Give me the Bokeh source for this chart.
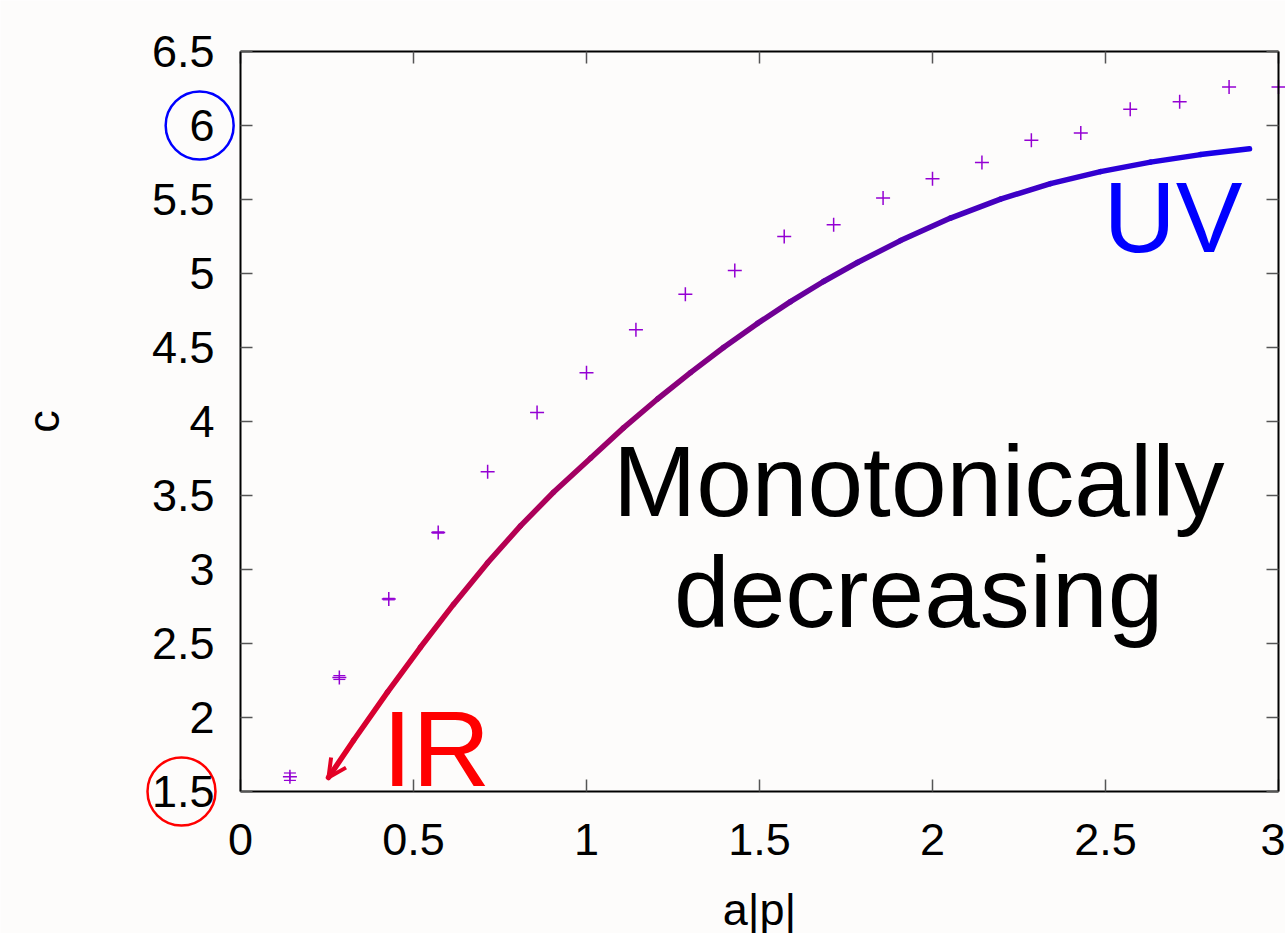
from bokeh.plotting import figure
from bokeh.models import (Range1d, LinearAxis, FixedTicker, NumeralTickFormatter, CustomJSTickFormatter,
                          ColumnDataSource, Arrow, OpenHead, Whisker, TeeHead)
from bokeh.core.properties import value
from bokeh.embed import file_html
from bokeh.resources import INLINE

# ---- data ----
x_ticks = [0, 0.5, 1, 1.5, 2, 2.5, 3]
y_ticks = [1.5, 2, 2.5, 3, 3.5, 4, 4.5, 5, 5.5, 6, 6.5]
x_bounds = (0, 3)
y_bounds = (1.5, 6.5)

ap = [1/7, 2/7, 3/7, 4/7, 5/7, 6/7, 7/7, 8/7, 9/7, 10/7, 11/7, 12/7, 13/7, 14/7,
      15/7, 16/7, 17/7, 18/7, 19/7, 20/7, 21/7]
c_vals = [1.60, 2.27, 2.80, 3.25, 3.66, 4.06, 4.33, 4.62, 4.86, 5.02, 5.25, 5.33,
          5.51, 5.64, 5.75, 5.90, 5.95, 6.11, 6.16, 6.26, 6.26]
c_err = [0.025, 0.013, 0.005, 0.004, 0, 0, 0, 0, 0, 0, 0, 0, 0, 0, 0, 0, 0, 0, 0, 0, 0]

# hand-drawn flow arrow (IR end first)
flow_x = [0.2543, 0.3266, 0.4249, 0.5202, 0.6156, 0.7139, 0.8092, 0.9046, 1.0116, 1.1069,
          1.2052, 1.3006, 1.3960, 1.4942, 1.5896, 1.6850, 1.7832, 1.9075, 2.0520, 2.1965,
          2.3410, 2.4855, 2.6301, 2.7746, 2.9162]
flow_y = [1.5946, 1.8446, 2.1709, 2.4743, 2.7642, 3.0446, 3.2946, 3.5216, 3.7514, 3.9568,
          4.1520, 4.3304, 4.5000, 4.6628, 4.8101, 4.9459, 5.0743, 5.2223, 5.3743, 5.5027,
          5.6074, 5.6885, 5.7527, 5.8034, 5.8432]

# circled tick values (on the y axis)
circled_ticks = [6, 1.5]
circ_x = [-0.118, -0.1705]
circ_col = ["#0000ff", "#ff0000"]

# annotation texts
note_text = ["UV", "IR", "Monotonically", "decreasing"]
note_x = [2.896, 0.410, 1.96, 1.96]
note_y = [5.385, 1.79, 3.595, 2.85]
note_size = ["100px", "108px", "100px", "100px"]
note_colors = ["#0000ff", "#ff0000", "black", "black"]
note_align = ["right", "left", "center", "center"]

BG = "#fdfcfb"
PURPLE = "#9400d3"

# the frame spans the whole canvas; axes are pinned at the data box edges
p = figure(frame_width=1285, frame_height=933, output_backend="svg", toolbar_location=None,
           x_range=Range1d(-0.6936, 3.0202), y_range=Range1d(0.5405, 6.8446),
           x_axis_location=None, y_axis_location=None,
           min_border=0, background_fill_color=BG, border_fill_color=BG)
p.title.visible = False
p.grid.visible = False
p.outline_line_color = None

def make_axis(ticks, bounds, loc, show_labels):
    ax = LinearAxis(fixed_location=loc, bounds=bounds)
    ax.ticker = FixedTicker(ticks=ticks)
    ax.axis_line_color = "black"
    ax.axis_line_width = 2
    ax.major_tick_in = 12
    ax.major_tick_out = 0
    ax.major_tick_line_color = "#555555"
    ax.major_tick_line_width = 1.5
    ax.minor_tick_line_color = None
    ax.major_label_text_font = "Liberation Sans"
    ax.major_label_text_color = "black"
    ax.axis_label_text_font = "Liberation Sans"
    ax.axis_label_text_font_size = "45px"
    ax.axis_label_text_font_style = "normal"
    ax.axis_label_text_color = "black"
    if show_labels:
        ax.formatter = NumeralTickFormatter(format="0.[0]")
        ax.major_label_text_font_size = "45px"
    else:
        ax.formatter = CustomJSTickFormatter(code="return ''")
        ax.major_label_standoff = 0
    return ax

xa = make_axis(x_ticks, x_bounds, y_bounds[0], True)
xa.major_label_standoff = 33
xa.axis_label = "a|p|"
xa.axis_label_standoff = 25
ya = make_axis(y_ticks, y_bounds, x_bounds[0], True)
ya.major_label_standoff = 26
ya.axis_label = "c"
ya.axis_label_standoff = 80
top = make_axis(x_ticks, x_bounds, y_bounds[1], False)
right = make_axis(y_ticks, y_bounds, x_bounds[1], False)
p.add_layout(xa, "below")
p.add_layout(ya, "left")
p.add_layout(top, "above")
p.add_layout(right, "right")

# flow arrow with red->blue gradient
n = len(flow_x)
def mix(t):
    r = int(round(228 * (1 - t) + 22 * t))
    b = int(round(36 * (1 - t) + 236 * t))
    return "#%02x%02x%02x" % (r, 0, b)
seg = ColumnDataSource(dict(
    x0=flow_x[:-1], y0=flow_y[:-1], x1=flow_x[1:], y1=flow_y[1:],
    col=[mix((i + 0.5) / (n - 1)) for i in range(n - 1)]))
p.segment("x0", "y0", "x1", "y1", source=seg, line_color="col", line_width=5.5, line_cap="round")
p.add_layout(Arrow(end=OpenHead(size=18, line_color=mix(0), line_width=4),
                   x_start=flow_x[1], y_start=flow_y[1], x_end=flow_x[0], y_end=flow_y[0],
                   line_color=None))

# data points with small error bars
pts = ColumnDataSource(dict(x=ap, y=c_vals))
p.scatter("x", "y", source=pts, marker="cross", size=14, line_color=PURPLE, line_width=1.5)
ex = [a for a, e in zip(ap, c_err) if e > 0]
ev = [v for v, e in zip(c_vals, c_err) if e > 0]
ee = [e for e in c_err if e > 0]
err = ColumnDataSource(dict(base=ex, lower=[v - e for v, e in zip(ev, ee)],
                            upper=[v + e for v, e in zip(ev, ee)]))
p.add_layout(Whisker(source=err, base="base", lower="lower", upper="upper", dimension="height",
                     line_color=PURPLE, line_width=1.2,
                     upper_head=TeeHead(size=12, line_color=PURPLE, line_width=1.2),
                     lower_head=TeeHead(size=12, line_color=PURPLE, line_width=1.2)))

# annotation texts
for t, x, y, s, c, a in zip(note_text, note_x, note_y, note_size, note_colors, note_align):
    p.text(x=[x], y=[y], text=[t], text_color=c, text_align=a, text_baseline="alphabetic",
           text_font=value("Liberation Sans"), text_font_size=value(s))

# circles around the highlighted tick labels
p.scatter(x=circ_x, y=circled_ticks, marker="circle", size=68, fill_color=None,
          line_color=circ_col, line_width=2.5)

open("out.html", "w").write(file_html(p, INLINE))
